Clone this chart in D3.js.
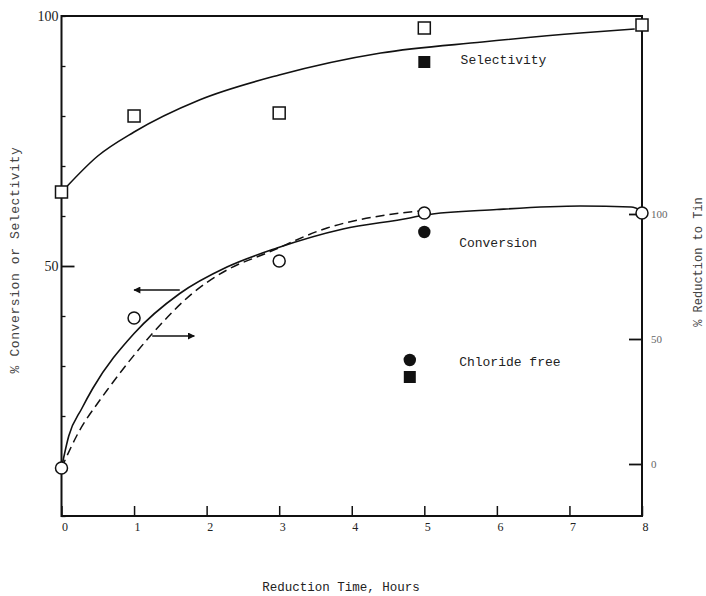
<!DOCTYPE html>
<html>
<head>
<meta charset="utf-8">
<script src="https://cdn.jsdelivr.net/npm/d3@7"></script>
<style>
  html, body { margin: 0; padding: 0; background: #fff; }
  svg { display: block; }
  .mono { font-family: "Liberation Mono", "DejaVu Sans Mono", monospace; fill: #222; }
  .num { font-family: "Liberation Serif", "DejaVu Serif", serif; fill: #222; }
</style>
</head>
<body>
<script>
// Sampled hours and measured points
const hours = [0, 1, 3, 5, 8];
const selectivityOpen = [64.8, 80, 80.6, 97.6, 98.2];   // % selectivity (left axis)
const conversionOpen = [9.6, 39.6, 51, 60.6, 60.6];     // % conversion (left axis)

// Filled markers: 5 h run and chloride-free run
const selectivityFilled = [[5, 90.8], [4.8, 27.8]];
const conversionFilled = [[5, 56.8], [4.8, 31.2]];

// Smoothed trend lines
const selCurveT = [0.08, 0.5, 1, 1.9, 3, 4.4, 5.8, 7.15, 7.9];
const selCurveV = [66, 72, 76.8, 83.2, 88.2, 92.6, 94.8, 96.6, 97.4];
const convCurveT = [0, 0.1, 0.28, 0.43, 1, 1.63, 2.28, 2.97, 3.88, 4.8, 5, 6, 7.15, 7.85, 8];
const convCurveV = [9.6, 16, 21.5, 25.5, 36.5, 44.5, 49.8, 53.6, 57.4, 59.6, 60.2, 61.3, 62, 61.8, 61];
// % reduction to tin (right axis)
const tinCurveT = [0, 0.23, 0.53, 0.63, 1.26, 1.81, 2.28, 2.83, 3.66, 4.57, 4.95];
const tinCurveV = [-1.6, 12.4, 25.6, 29.6, 52.4, 68.4, 77.6, 84.4, 94.4, 100, 101.2];

// Axis ticks and titles
const xTicks = [0, 1, 2, 3, 4, 5, 6, 7, 8];
const leftTicks = [0, 10, 20, 30, 40, 50, 60, 70, 80, 90, 100];
const leftLabels = [50, 100];
const rightTicks = [0, 50, 100];
const xTitle = "Reduction Time, Hours";
const leftTitle = "% Conversion or Selectivity";
const rightTitle = "% Reduction to Tin";

// Direction arrows: [fromHour, toHour, level on left axis]
const arrows = [[1.63, 1.0, 45.2], [1.25, 1.83, 36]];

// Legend labels placed beside the markers
const legendItems = [
  { text: "Selectivity", t: 5.5, v: 90.4 },
  { text: "Conversion", t: 5.48, v: 53.8 },
  { text: "Chloride free", t: 5.48, v: 30 }
];

const W = 706, H = 596;
const svg = d3.select("body").append("svg").attr("width", W).attr("height", H);
svg.append("rect").attr("width", W).attr("height", H).attr("fill", "#fff");

const x = d3.scaleLinear().domain([0, 8]).range([61.5, 642]);
const yL = d3.scaleLinear().domain([0, 100]).range([516, 16]);
const yR = d3.scaleLinear().domain([0, 100]).range([464, 214]);

// Frame
svg.append("rect")
  .attr("x", x(0)).attr("y", yL(100))
  .attr("width", x(8) - x(0)).attr("height", yL(0) - yL(100))
  .attr("fill", "none").attr("stroke", "#111").attr("stroke-width", 2);

// Bottom axis
const gx = svg.append("g").attr("transform", `translate(0,${yL(0)})`)
  .call(d3.axisBottom(x).tickValues(xTicks).tickSize(-10).tickPadding(6).tickFormat(d3.format("d")));
gx.select(".domain").remove();
gx.selectAll("line").attr("stroke", "#111").attr("stroke-width", 1.5);
gx.selectAll("text").attr("class", "num").attr("font-size", 12).attr("dx", 3);

// Left axis
const gl = svg.append("g").attr("transform", `translate(${x(0)},0)`)
  .call(d3.axisLeft(yL).tickValues(leftTicks).tickSize(-4).tickPadding(3)
    .tickFormat(d => leftLabels.includes(d) ? d : ""));
gl.select(".domain").remove();
gl.selectAll("line").attr("stroke", "#111").attr("stroke-width", 1.3);
gl.selectAll(".tick").filter(d => d === 50).select("line").attr("x2", 13).attr("stroke-width", 1.8);
gl.selectAll("text").attr("class", "num").attr("font-size", 14);

// Right axis
const gr = svg.append("g").attr("transform", `translate(${x(8)},0)`)
  .call(d3.axisRight(yR).tickValues(rightTicks).tickSize(-13).tickPadding(9).tickFormat(d3.format("d")));
gr.select(".domain").remove();
gr.selectAll("line").attr("stroke", "#111").attr("stroke-width", 1.8);
gr.selectAll("text").attr("class", "num").attr("font-size", 11).style("fill", "#666");

// Curves
const line = d3.line().curve(d3.curveMonotoneX);
svg.append("path")
  .attr("d", line(selCurveT.map((t, i) => [x(t), yL(selCurveV[i])])))
  .attr("fill", "none").attr("stroke", "#111").attr("stroke-width", 1.6);
svg.append("path")
  .attr("d", line(convCurveT.map((t, i) => [x(t), yL(convCurveV[i])])))
  .attr("fill", "none").attr("stroke", "#111").attr("stroke-width", 1.6);
svg.append("path")
  .attr("d", line(tinCurveT.map((t, i) => [x(t), yR(tinCurveV[i])])))
  .attr("fill", "none").attr("stroke", "#111").attr("stroke-width", 1.5)
  .attr("stroke-dasharray", "9,5");

// Arrow heads
svg.append("defs").append("marker")
  .attr("id", "head").attr("viewBox", "0 0 10 10")
  .attr("refX", 9).attr("refY", 5)
  .attr("markerWidth", 9).attr("markerHeight", 7)
  .attr("markerUnits", "userSpaceOnUse")
  .attr("orient", "auto")
  .append("path").attr("d", "M0,0 L10,5 L0,10 Z").attr("fill", "#111");

svg.selectAll(".arrow").data(arrows).enter().append("line")
  .attr("x1", d => x(d[0])).attr("x2", d => x(d[1]))
  .attr("y1", d => yL(d[2])).attr("y2", d => yL(d[2]))
  .attr("stroke", "#111").attr("stroke-width", 1.5)
  .attr("marker-end", "url(#head)");

// Markers
const s = 12;
svg.selectAll(".sqOpen").data(hours).enter().append("rect")
  .attr("x", (d, i) => x(d) - s / 2).attr("y", (d, i) => yL(selectivityOpen[i]) - s / 2)
  .attr("width", s).attr("height", s)
  .attr("fill", "#fff").attr("stroke", "#111").attr("stroke-width", 1.5);
svg.selectAll(".cOpen").data(hours).enter().append("circle")
  .attr("cx", d => x(d)).attr("cy", (d, i) => yL(conversionOpen[i])).attr("r", 6)
  .attr("fill", "#fff").attr("stroke", "#111").attr("stroke-width", 1.5);
svg.selectAll(".sqFill").data(selectivityFilled).enter().append("rect")
  .attr("x", d => x(d[0]) - s / 2).attr("y", d => yL(d[1]) - s / 2)
  .attr("width", s).attr("height", s).attr("fill", "#111");
svg.selectAll(".cFill").data(conversionFilled).enter().append("circle")
  .attr("cx", d => x(d[0])).attr("cy", d => yL(d[1])).attr("r", 6.2).attr("fill", "#111");

// Legend labels
svg.selectAll(".lg").data(legendItems).enter().append("text")
  .attr("class", "mono").attr("font-size", 13)
  .attr("x", d => x(d.t)).attr("y", d => yL(d.v))
  .text(d => d.text);

// Titles
svg.append("text").attr("class", "mono").attr("font-size", 12.5)
  .attr("x", 341).attr("y", 591).attr("text-anchor", "middle").text(xTitle);
svg.append("text").attr("class", "mono").attr("font-size", 13).attr("letter-spacing", 0.6)
  .attr("transform", "translate(19,260) rotate(-90)").attr("text-anchor", "middle")
  .style("fill", "#444").text(leftTitle);
svg.append("text").attr("class", "mono").attr("font-size", 12)
  .attr("transform", "translate(702,262) rotate(-90)").attr("text-anchor", "middle")
  .style("fill", "#444").text(rightTitle);
</script>
</body>
</html>
